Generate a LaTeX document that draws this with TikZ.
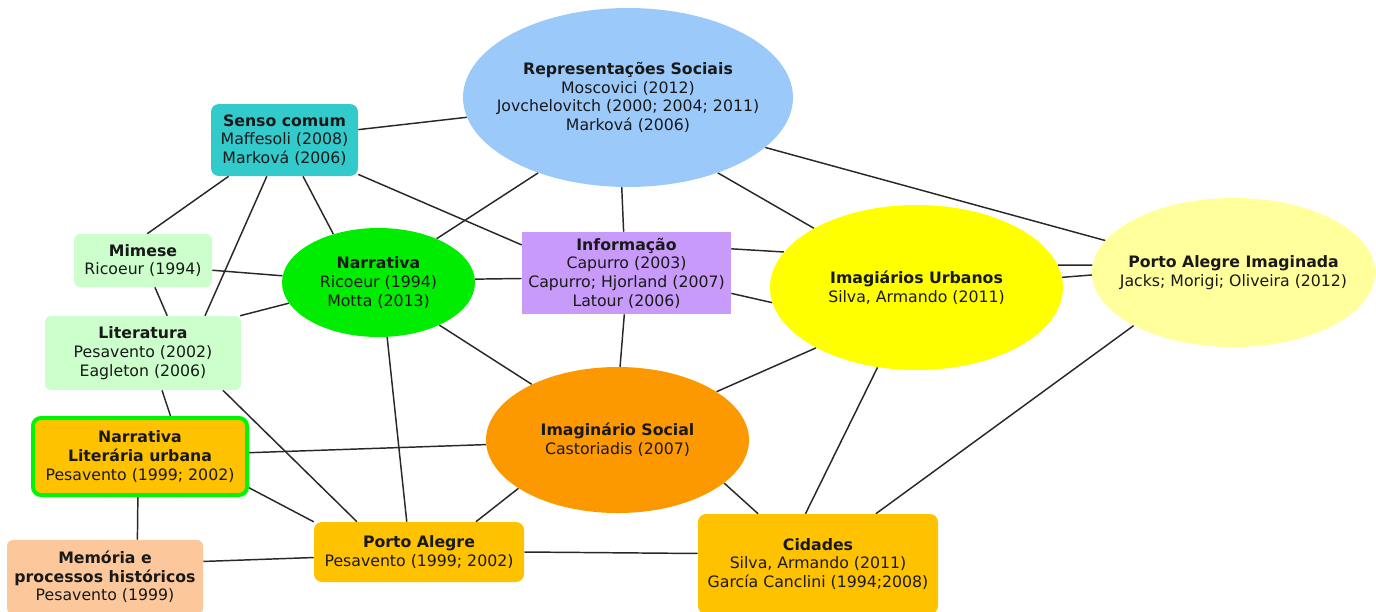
\documentclass[tikz,border=0pt]{standalone}
\usepackage{fontspec}
\setmainfont{DejaVu Sans}
\usetikzlibrary{shapes.geometric,backgrounds}
\definecolor{txtc}{RGB}{25,25,25}
\definecolor{linec}{RGB}{40,40,40}
\definecolor{repc}{RGB}{155,202,250}
\definecolor{sensoc}{RGB}{51,202,204}
\definecolor{lgreen}{RGB}{204,255,204}
\definecolor{narrc}{RGB}{0,236,0}
\definecolor{infoc}{RGB}{200,155,250}
\definecolor{imuc}{RGB}{255,255,0}
\definecolor{paic}{RGB}{255,255,155}
\definecolor{goldc}{RGB}{255,194,0}
\definecolor{nlug}{RGB}{0,245,0}
\definecolor{imsc}{RGB}{252,152,0}
\definecolor{memc}{RGB}{252,200,155}
\begin{document}
\begin{tikzpicture}[x=0.75pt,y=-0.75pt,
  every node/.style={font=\fontsize{11.8}{14}\selectfont, text=txtc, align=center, inner sep=0pt},
  sz/.style 2 args={minimum width={#1*0.75pt}, minimum height={#2*0.75pt}},
  ell/.style={ellipse, inner sep=0pt},
  rbox/.style={rectangle, rounded corners=6pt},
  sbox/.style={rectangle, rounded corners=4.5pt},
  link/.style={draw=linec, line width=1.1pt}]
\useasboundingbox (0,0) rectangle (1376,611);

% ellipses
\node[ell, fill=repc, sz={330}{179}] (rep) at (628,97.5) {};
\node (repT) at (rep) {\textbf{Representações Sociais}\\Moscovici (2012)\\Jovchelovitch (2000; 2004; 2011)\\Marková (2006)};

\node[ell, fill=narrc, sz={193}{109}] (narr) at (378.5,282.5) {};
\node (narrT) at (narr) {\textbf{Narrativa}\\Ricoeur (1994)\\Motta (2013)};

\node[ell, fill=imuc, sz={293}{165}] (imu) at (916.5,287.5) {};
\node (imuT) at (imu) {\textbf{Imagiários Urbanos}\\Silva, Armando (2011)};

\node[ell, fill=paic, sz={283}{149}] (pai) at (1233.5,272.5) {};
\node (paiT) at (pai) {\textbf{Porto Alegre Imaginada}\\Jacks; Morigi; Oliveira (2012)};

\node[ell, fill=imsc, sz={263}{146}] (ims) at (617.5,440) {};
\node (imsT) at (ims) {\textbf{Imaginário Social}\\Castoriadis (2007)};

% boxes
\node[rbox, fill=sensoc, sz={147}{72}] (senso) at (284.5,140) {\textbf{Senso comum}\\Maffesoli (2008)\\Marková (2006)};
\node[sbox, fill=lgreen, sz={138}{53}] (mim) at (143,260.5) {\textbf{Mimese}\\Ricoeur (1994)};
\node[rectangle, fill=infoc, sz={209}{82}] (info) at (626.5,273) {\textbf{Informação}\\Capurro (2003)\\Capurro; Hjorland (2007)\\Latour (2006)};
\node[sbox, fill=lgreen, sz={196}{74}] (lit) at (143,353) {\textbf{Literatura}\\Pesavento (2002)\\Eagleton (2006)};
\node[rbox, fill=goldc, draw=nlug, line width=3pt, sz={214}{77}] (nlu) at (140,456.5) {\textbf{Narrativa}\\\textbf{Literária urbana}\\Pesavento (1999; 2002)};
\node[sbox, fill=memc, sz={196}{74}] (mem) at (105,577) {\textbf{Memória e}\\\textbf{processos históricos}\\Pesavento (1999)};
\node[rbox, fill=goldc, sz={210}{60}] (pa) at (419,552) {\textbf{Porto Alegre}\\Pesavento (1999; 2002)};
\node[rbox, fill=goldc, sz={240}{100}] (cid) at (818,564) {\textbf{Cidades}\\Silva, Armando (2011)\\García Canclini (1994;2008)};

\begin{scope}[on background layer]
\draw[link] (senso.8) -- (rep.187);
\draw[link] (senso.213) -- (mim.81);
\draw[link] (senso.244) -- (lit.31);
\draw[link] (senso.297) -- (narr.133);
\draw[link] (senso.335) -- (info.165);
\draw[link] (rep.220) -- (narr.37);
\draw[link] (rep.266) -- (info.94);
\draw[link] (rep.320) -- (imu.150);
\draw[link] (rep.340) -- (pai.166);
\draw[link] (mim.352) -- (narr.176);
\draw[link] (mim.294) -- (lit.57);
\draw[link] (narr.2) -- (info.183);
\draw[link] (narr.193) -- (lit.21);
\draw[link] (narr.325) -- (ims.147);
\draw[link] (narr.279) -- (pa.112);
\draw[link] (info.13) -- (imu.165);
\draw[link] (info.349) -- (imu.186);
\draw[link] (info.267) -- (ims.88);
\draw[link] (imu.211) -- (ims.26);
\draw[link] (imu.244) -- (cid.104);
\draw[link] (pai.208) -- (cid.41);
\draw[link] (imu.9) -- (pai.177);
\draw[link] (imu.4) -- (pai.181);
\draw[link] (lit.297) -- (nlu.53);
\draw[link] (lit.335) -- (pa.154);
\draw[link] (nlu.2) -- (ims.182);
\draw[link] (nlu.344) -- (pa.164);
\draw[link] (nlu.267) -- (mem.49);
\draw[link] (ims.206) -- (pa.28);
\draw[link] (ims.338) -- (cid.140);
\draw[link] (mem.9) -- (pa.183);
\draw[link] (pa.0) -- (cid.175);
\end{scope}
\end{tikzpicture}
\end{document}
